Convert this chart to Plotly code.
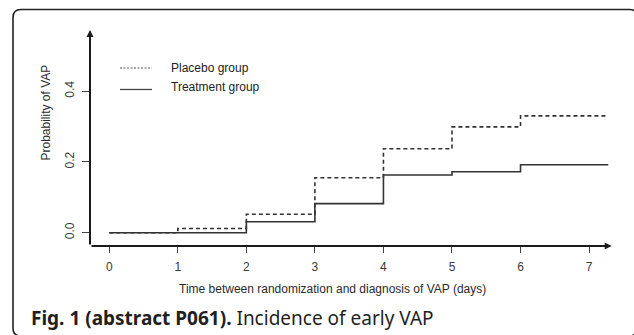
import plotly.graph_objects as go

# Cumulative probability of VAP by day since randomization
days = [0, 1, 2, 3, 4, 5, 6]
end_day = 7.28
placebo = [0.0, 0.012, 0.052, 0.155, 0.237, 0.299, 0.330]
treatment = [0.0, 0.0, 0.031, 0.082, 0.163, 0.172, 0.192]

x_ticks = [0, 1, 2, 3, 4, 5, 6, 7]
y_ticks = [0.0, 0.2, 0.4]
y_tick_text = ["0.0", "0.2", "0.4"]

legend_labels = ["Placebo group", "Treatment group"]
x_title = "Time between randomization and diagnosis of VAP (days)"
y_title = "Probability of VAP"
caption_bold = "Fig. 1 (abstract P061)."
caption_text = "Incidence of early VAP"

W, H = 634, 335
X_RANGE = [-0.281, 7.33]
Y_RANGE = [-0.0376, 0.5726]
LINE_COLOR = "#333333"
AXIS_COLOR = "#1a1a1a"
TEXT_COLOR = "#3a3a3a"


def px(x):
    return x / W


def py(y):
    return 1 - y / H


def extend(xs, ys):
    # carry the last value to the end of follow-up
    return list(xs) + [end_day], list(ys) + [ys[-1]]


fig = go.Figure()

tx, ty = extend(days, treatment)
pxs, pys = extend(days, placebo)

fig.add_trace(go.Scatter(
    x=pxs, y=pys, mode="lines", line_shape="hv",
    line=dict(color=LINE_COLOR, width=1.6, dash="4px,3px"),
    name=legend_labels[0], showlegend=False, hoverinfo="skip",
))
fig.add_trace(go.Scatter(
    x=tx, y=ty, mode="lines", line_shape="hv",
    line=dict(color=LINE_COLOR, width=1.6),
    name=legend_labels[1], showlegend=False, hoverinfo="skip",
))

tick_font = dict(family="Liberation Sans, Arial, sans-serif", size=12, color=TEXT_COLOR)

fig.update_xaxes(
    range=X_RANGE, domain=[px(90), px(611.7)],
    tickmode="array", tickvals=x_ticks, ticktext=[str(v) for v in x_ticks],
    ticks="outside", ticklen=6, tickwidth=1.3, tickcolor="#444444",
    showgrid=False, zeroline=False, showline=False,
    tickfont=tick_font, ticklabelstandoff=4,
)
fig.update_yaxes(
    range=Y_RANGE, domain=[py(246), py(30)],
    tickmode="array", tickvals=y_ticks, ticktext=y_tick_text,
    ticks="outside", ticklen=7, tickwidth=1.3, tickcolor="#444444",
    showgrid=False, zeroline=False, showline=False,
    tickfont=tick_font, tickangle=-90, ticklabelstandoff=3,
)

annotations = []
# axes drawn as arrows
for head_x, head_y in [(X_RANGE[1], Y_RANGE[0]), (X_RANGE[0], Y_RANGE[1])]:
    annotations.append(dict(
        x=head_x, y=head_y, ax=X_RANGE[0], ay=Y_RANGE[0],
        xref="x", yref="y", axref="x", ayref="y",
        showarrow=True, arrowhead=2, arrowsize=0.7, arrowwidth=2,
        arrowcolor=AXIS_COLOR, text="", standoff=0,
    ))

# axis titles
annotations.append(dict(
    x=px(332), y=py(289.3), xref="paper", yref="paper",
    text=x_title, showarrow=False, xanchor="center", yanchor="middle",
    font=dict(family="Liberation Sans, Arial, sans-serif", size=12, color="#2a2a2a"),
))
annotations.append(dict(
    x=px(45.5), y=py(113), xref="paper", yref="paper",
    text=y_title, showarrow=False, xanchor="center", yanchor="middle",
    textangle=-90,
    font=dict(family="Liberation Sans, Arial, sans-serif", size=12, color="#2a2a2a"),
))

# legend text
for label, yc in zip(legend_labels, [67.5, 86.5]):
    annotations.append(dict(
        x=px(169), y=py(yc), xref="paper", yref="paper",
        text=label, showarrow=False, xanchor="left", yanchor="middle",
        font=dict(family="Liberation Sans, Arial, sans-serif", size=12, color="#222222"),
    ))

# figure caption
annotations.append(dict(
    x=px(29), y=py(318), xref="paper", yref="paper",
    text=f"<b>{caption_bold}</b> {caption_text}",
    showarrow=False, xanchor="left", yanchor="middle",
    font=dict(family="Noto Sans, sans-serif", size=19, color="#231f20"),
))

shapes = []
# legend keys
shapes.append(dict(type="line", xref="paper", yref="paper",
                   x0=px(120), x1=px(152), y0=py(68), y1=py(68),
                   line=dict(color="#555555", width=1, dash="2px,1.5px")))
shapes.append(dict(type="line", xref="paper", yref="paper",
                   x0=px(120), x1=px(152), y0=py(89.5), y1=py(89.5),
                   line=dict(color="#444444", width=1.3)))

# rounded frame around the figure panel
L, T, R, B, r = 13, 9.5, 637.5, 336, 8
frame = (
    f"M {px(L)},{py(B - r)} "
    f"L {px(L)},{py(T + r)} "
    f"Q {px(L)},{py(T)} {px(L + r)},{py(T)} "
    f"L {px(R - r)},{py(T)} "
    f"Q {px(R)},{py(T)} {px(R)},{py(T + r)} "
    f"L {px(R)},{py(B - r)} "
    f"Q {px(R)},{py(B)} {px(R - r)},{py(B)} "
    f"L {px(L + r)},{py(B)} "
    f"Q {px(L)},{py(B)} {px(L)},{py(B - r)} Z"
)
shapes.append(dict(type="path", xref="paper", yref="paper", path=frame,
                   line=dict(color="#222222", width=1.6), layer="below"))

fig.update_layout(
    width=W, height=H,
    margin=dict(l=0, r=0, t=0, b=0),
    paper_bgcolor="white", plot_bgcolor="white",
    annotations=annotations, shapes=shapes,
    showlegend=False,
)

fig.write_html("out.html", config={"displayModeBar": False})
